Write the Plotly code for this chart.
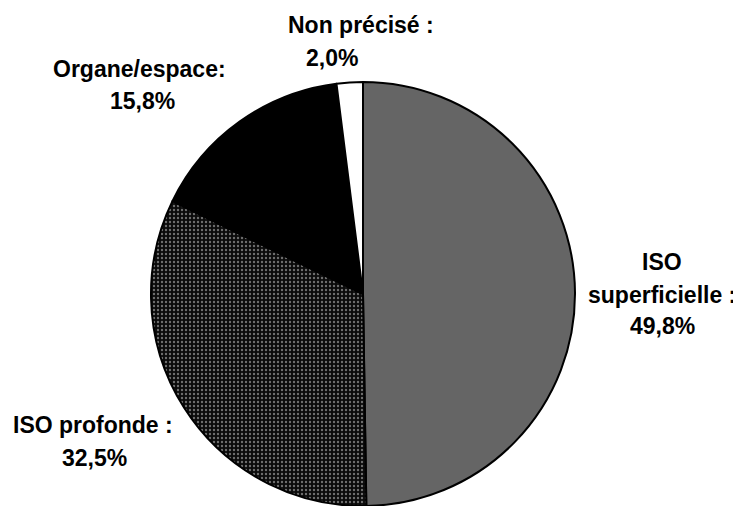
import plotly.graph_objects as go

# The page body has an 8px margin, so the figure is drawn 8px in from the
# top-left corner of the window; size it so it ends at the window edge.
OFF = 8
W, H = 741 - OFF, 506 - OFF

categories = ["ISO superficielle", "ISO profonde", "Organe/espace", "Non précisé"]
values = [49.8, 32.5, 15.8, 2.0]
label_lines = [
    ["ISO", "superficielle :", "49,8%"],
    ["ISO profonde :", "32,5%"],
    ["Organe/espace:", "15,8%"],
    ["Non précisé :", "2,0%"],
]
# window-pixel positions (x centre, y centre) of each label line
label_pos = [
    [(662, 262), (662, 295), (662, 326)],
    [(93, 425), (94, 458)],
    [(139, 69), (142, 101)],
    [(361, 25), (332, 58)],
]

colors = ["#656565", "#0a0a0a", "#000000", "#ffffff"]


def px_x(x):
    return (x - OFF) / W


def px_y(y):
    return 1 - (y - OFF) / H


# pie placement in window pixels
top_px, bot_px = 82, 506
cx_px = 363
r_px = (bot_px - top_px) / 2

fig = go.Figure()
fig.add_trace(go.Pie(
    labels=categories,
    values=values,
    sort=False,
    direction="clockwise",
    rotation=0,
    textinfo="none",
    hoverinfo="label+percent",
    marker=dict(
        colors=colors,
        line=dict(color="#000000", width=2),
        pattern=dict(
            shape=["", ".", "", ""],
            fgcolor=["#656565", "#6e6e6e", "#000000", "#ffffff"],
            bgcolor=colors,
            size=4,
            solidity=0.28,
        ),
    ),
    domain=dict(
        x=[px_x(cx_px - r_px), px_x(cx_px + r_px)],
        y=[max(0, px_y(bot_px)), px_y(top_px)],
    ),
    showlegend=False,
))

annotations = []
for lines, poss in zip(label_lines, label_pos):
    for txt, (px, py) in zip(lines, poss):
        annotations.append(dict(
            text="<b>" + txt + "</b>",
            x=px_x(px), y=px_y(py),
            xref="paper", yref="paper",
            xanchor="center", yanchor="middle",
            showarrow=False,
            font=dict(family="Liberation Sans, Arial, sans-serif", size=23, color="#000000"),
        ))

fig.update_layout(
    width=W, height=H,
    margin=dict(l=0, r=0, t=0, b=0),
    paper_bgcolor="#ffffff",
    plot_bgcolor="#ffffff",
    annotations=annotations,
)

fig.write_html("out.html")
